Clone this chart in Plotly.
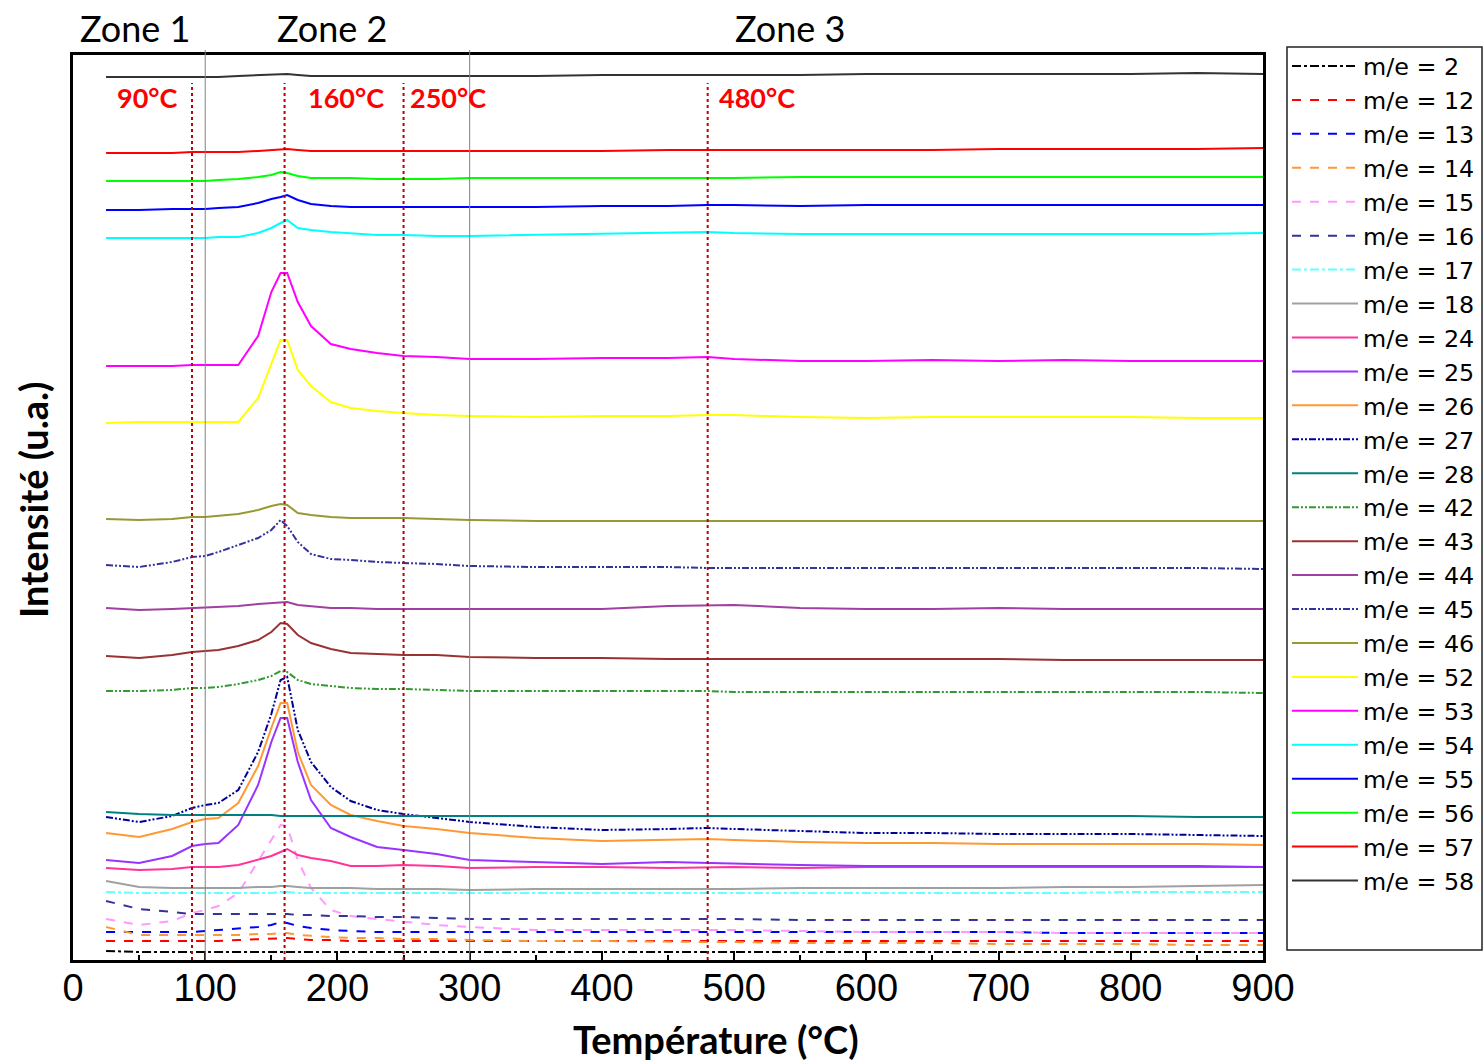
import plotly.graph_objects as go

# ---------------- data ----------------
temperature = [25, 50, 75, 90, 100, 110, 125, 140, 150, 157, 162, 170, 180, 195, 210, 230,
               250, 275, 300, 350, 400, 450, 480, 500, 550, 600, 650, 700, 750, 800, 850, 900]

me_2 = [9, 8, 8, 8, 8, 8, 8, 8, 8, 8, 8, 8, 8, 8, 8, 8, 8, 8, 8, 8, 8, 8, 8, 8, 8, 8, 8, 8, 8, 8, 8, 8]
me_12 = [19, 19, 19, 19, 19, 19, 20, 21, 21, 22, 22, 21, 20, 20, 19, 19, 19, 19, 19, 19, 19, 19, 19, 19, 19, 19, 19, 19, 19, 19, 19, 19]
me_13 = [28, 28, 28, 28, 29, 30, 31, 33, 35, 38, 37, 34, 32, 30, 29, 28, 28, 28, 28, 28, 28, 28, 28, 28, 28, 28, 28, 28, 27, 27, 27, 27]
me_14 = [33, 25, 25, 25, 25, 25, 25, 26, 26, 27, 27, 25, 24, 23, 22, 22, 21, 21, 20, 19, 19, 18, 18, 18, 17, 17, 17, 16, 16, 16, 15, 15]
me_15 = [41, 35, 39, 47, 50, 54, 67, 98, 120, 135, 134, 100, 72, 50, 44, 41, 38, 35, 33, 30, 30, 30, 30, 30, 29, 28, 28, 28, 27, 27, 27, 27]
me_16 = [59, 51, 48, 46, 46, 46, 46, 46, 46, 46, 46, 45, 45, 44, 44, 43, 43, 42, 41, 41, 41, 41, 41, 41, 40, 40, 40, 40, 40, 40, 40, 40]
me_17 = [68, 67, 67, 67, 67, 67, 67, 67, 67, 68, 68, 67, 67, 67, 67, 67, 67, 67, 67, 67, 67, 67, 67, 67, 67, 67, 67, 67, 67, 68, 68, 68]
me_18 = [79, 73, 72, 72, 72, 72, 72, 73, 73, 74, 74, 73, 72, 72, 72, 71, 71, 71, 70, 71, 71, 71, 71, 71, 72, 72, 72, 72, 73, 73, 74, 75]
me_24 = [92, 90, 91, 93, 93, 93, 95, 100, 104, 108, 111, 105, 102, 99, 94, 94, 95, 94, 92, 93, 93, 92, 93, 93, 92, 93, 93, 93, 93, 93, 93, 93]
me_25 = [100, 97, 104, 114, 116, 117, 135, 175, 218, 242, 242, 198, 160, 132, 123, 113, 110, 106, 100, 98, 96, 98, 97, 97, 95, 94, 94, 94, 94, 94, 94, 93]
me_26 = [127, 123, 131, 138, 141, 142, 157, 194, 232, 257, 257, 208, 175, 155, 145, 139, 134, 131, 127, 122, 119, 120, 121, 120, 118, 117, 117, 116, 116, 116, 116, 115]
me_27 = [143, 138, 144, 152, 155, 157, 170, 208, 246, 280, 283, 230, 198, 173, 159, 150, 146, 142, 138, 133, 130, 131, 132, 131, 129, 127, 127, 126, 126, 126, 125, 124]
me_28 = [148, 146, 145, 145, 145, 145, 145, 145, 145, 144, 144, 144, 144, 144, 144, 144, 144, 144, 144, 144, 144, 144, 144, 144, 144, 144, 144, 144, 144, 144, 143, 143]
me_42 = [269, 269, 270, 272, 272, 273, 276, 280, 284, 289, 288, 280, 276, 274, 272, 271, 271, 270, 269, 269, 269, 269, 269, 268, 268, 268, 268, 268, 268, 268, 268, 267]
me_43 = [304, 302, 305, 308, 309, 310, 314, 320, 328, 337, 336, 325, 317, 311, 307, 306, 305, 305, 303, 302, 302, 301, 301, 301, 301, 301, 301, 301, 300, 300, 300, 300]
me_44 = [352, 350, 351, 352, 352, 353, 354, 356, 357, 358, 358, 355, 354, 352, 352, 351, 351, 351, 351, 351, 351, 354, 355, 355, 352, 351, 351, 352, 351, 351, 351, 351]
me_45 = [395, 393, 398, 403, 404, 408, 415, 422, 430, 440, 434, 418, 406, 401, 400, 398, 397, 396, 394, 393, 393, 393, 392, 392, 392, 392, 392, 392, 392, 392, 392, 391]
me_46 = [441, 440, 441, 443, 443, 444, 446, 450, 454, 456, 455, 447, 445, 443, 442, 442, 442, 441, 440, 439, 439, 439, 439, 439, 439, 439, 439, 439, 439, 439, 439, 439]
me_52 = [537, 538, 538, 538, 538, 538, 538, 562, 595, 620, 620, 590, 574, 558, 552, 549, 547, 545, 544, 543, 544, 544, 545, 545, 543, 542, 543, 543, 543, 543, 542, 542]
me_53 = [594, 594, 594, 595, 595, 595, 595, 624, 668, 687, 687, 658, 634, 616, 611, 607, 604, 603, 601, 601, 602, 602, 603, 601, 599, 599, 600, 599, 600, 599, 599, 599]
me_54 = [722, 722, 722, 722, 722, 723, 723, 727, 732, 737, 740, 732, 730, 728, 727, 725, 725, 724, 724, 725, 726, 727, 728, 727, 726, 726, 726, 726, 726, 726, 726, 727]
me_55 = [750, 750, 751, 751, 751, 752, 753, 757, 761, 763, 765, 760, 756, 754, 753, 753, 753, 753, 753, 753, 754, 754, 755, 755, 754, 755, 755, 755, 755, 755, 755, 755]
me_56 = [779, 779, 779, 779, 779, 780, 781, 783, 785, 788, 787, 784, 782, 782, 782, 781, 781, 781, 782, 782, 782, 782, 782, 782, 783, 783, 783, 783, 783, 783, 783, 783]
me_57 = [807, 807, 807, 808, 808, 808, 808, 809, 810, 811, 811, 810, 809, 809, 809, 809, 809, 809, 809, 809, 809, 810, 810, 810, 810, 810, 810, 811, 811, 811, 811, 812]
me_58 = [883, 883, 883, 883, 883, 883, 884, 885, 885, 886, 886, 885, 884, 884, 884, 884, 884, 884, 884, 884, 885, 885, 885, 885, 885, 886, 886, 886, 886, 886, 887, 886]

mass_labels = [2, 12, 13, 14, 15, 16, 17, 18, 24, 25, 26, 27, 28, 42, 43, 44, 45, 46, 52, 53, 54, 55, 56, 57, 58]

event_temps = [90, 160, 250, 480]
event_labels = ["90°C", "160°C", "250°C", "480°C"]
zone_bounds = [100, 300]
zone_labels = ["Zone 1", "Zone 2", "Zone 3"]

# ---------------- styles ----------------
DDD = "7px,2px,2px,2px,2px,2px"
styles = {
    2: ("#000000", "dashdot"), 12: ("#ff0000", "dash"), 13: ("#0000ff", "dash"),
    14: ("#ff9933", "dash"), 15: ("#ff99ff", "dash"), 16: ("#333399", "dash"),
    17: ("#66ffff", "dashdot"), 18: ("#a0a0a0", "solid"), 24: ("#ff3399", "solid"),
    25: ("#9933ff", "solid"), 26: ("#ff9933", "solid"), 27: ("#000099", DDD),
    28: ("#008080", "solid"), 42: ("#339933", DDD), 43: ("#993333", "solid"),
    44: ("#a040a0", "solid"), 45: ("#333399", DDD), 46: ("#999933", "solid"),
    52: ("#ffff00", "solid"), 53: ("#ff00ff", "solid"), 54: ("#00ffff", "solid"),
    55: ("#0000ff", "solid"), 56: ("#00ff00", "solid"), 57: ("#ff0000", "solid"),
    58: ("#333333", "solid"),
}

series = [me_2, me_12, me_13, me_14, me_15, me_16, me_17, me_18, me_24, me_25, me_26, me_27,
          me_28, me_42, me_43, me_44, me_45, me_46, me_52, me_53, me_54, me_55, me_56, me_57, me_58]
for s in series:
    assert len(s) == len(temperature)

fig = go.Figure()
for m, vals in zip(mass_labels, series):
    col, dash = styles[m]
    fig.add_trace(go.Scatter(x=temperature, y=vals, mode="lines", name=f"m/e = {m}",
                             line=dict(color=col, width=2, dash=dash)))

# plot geometry (pixels)
L, R, T, B = 73, 1263, 55, 960
W, H = 1484, 1063

def px_to_paper_y(py):
    return (B - py) / (B - T)

def px_to_paper_x(px):
    return (px - L) / (R - L)

shapes = []
for t in event_temps:
    shapes.append(dict(type="line", xref="x", yref="paper", x0=t, x1=t,
                       y0=0, y1=px_to_paper_y(83),
                       line=dict(color="#c00000", width=2, dash="dot")))
for t in zone_bounds:
    shapes.append(dict(type="line", xref="x", yref="paper", x0=t, x1=t,
                       y0=0, y1=px_to_paper_y(50),
                       line=dict(color="#808080", width=1)))
# legend frame
shapes.append(dict(type="rect", xref="paper", yref="paper",
                   x0=px_to_paper_x(1287), x1=px_to_paper_x(1482),
                   y0=px_to_paper_y(950), y1=px_to_paper_y(47),
                   line=dict(color="#222222", width=1.5)))

annotations = []
label_left_px = [115, 306, 408, 717]
for lab, lpx in zip(event_labels, label_left_px):
    annotations.append(dict(text=lab, xref="paper", yref="paper",
                            x=px_to_paper_x(lpx), y=px_to_paper_y(97),
                            xanchor="left", yanchor="middle", showarrow=False,
                            font=dict(family="Lato", size=27, color="#ff0000", weight="bold")))
zone_left_px = [78, 275, 733]
for lab, lpx in zip(zone_labels, zone_left_px):
    annotations.append(dict(text=lab, xref="paper", yref="paper",
                            x=px_to_paper_x(lpx), y=px_to_paper_y(28),
                            xanchor="left", yanchor="middle", showarrow=False,
                            font=dict(family="Lato", size=36, color="#000000")))
annotations.append(dict(text="<b>Température (°C)</b>", xref="paper", yref="paper",
                        x=px_to_paper_x(716), y=px_to_paper_y(1039),
                        xanchor="center", yanchor="middle", showarrow=False,
                        font=dict(family="Lato", size=38, color="#000000")))
annotations.append(dict(text="<b>Intensité (u.a.)</b>", xref="paper", yref="paper",
                        x=px_to_paper_x(33), y=px_to_paper_y(500), textangle=-90,
                        xanchor="center", yanchor="middle", showarrow=False,
                        font=dict(family="Lato", size=38, color="#000000")))

fig.update_layout(
    width=W, height=H,
    margin=dict(l=L, r=W - R, t=T, b=H - B, pad=0, autoexpand=False),
    plot_bgcolor="white", paper_bgcolor="white",
    shapes=shapes, annotations=annotations,
    showlegend=True,
    legend=dict(x=px_to_paper_x(1287), y=px_to_paper_y(44), xanchor="left", yanchor="top",
                font=dict(family="DejaVu Sans", size=23.8, color="#000000"),
                bgcolor="rgba(0,0,0,0)", borderwidth=0, itemwidth=66,
                tracegroupgap=0, maxheight=1000),
    xaxis=dict(range=[0, 900], dtick=100, tick0=0, ticks="inside", ticklen=9, tickwidth=2,
               tickcolor="black", showline=True, linewidth=3, linecolor="black", mirror=True,
               showgrid=False, zeroline=False, ticklabelstandoff=-8,
               tickfont=dict(family="Liberation Sans, Arial", size=38, color="black"),
               minor=dict(ticks="inside", ticklen=5, tickwidth=2, tickcolor="black",
                          dtick=50, tick0=0, showgrid=False)),
    yaxis=dict(range=[0, 905], showticklabels=False, ticks="", showline=True, linewidth=3,
               linecolor="black", mirror=True, showgrid=False, zeroline=False),
)

fig.write_html("out.html", config={"displayModeBar": False},
               post_script="document.body.style.margin='0';document.body.style.overflow='hidden';")
